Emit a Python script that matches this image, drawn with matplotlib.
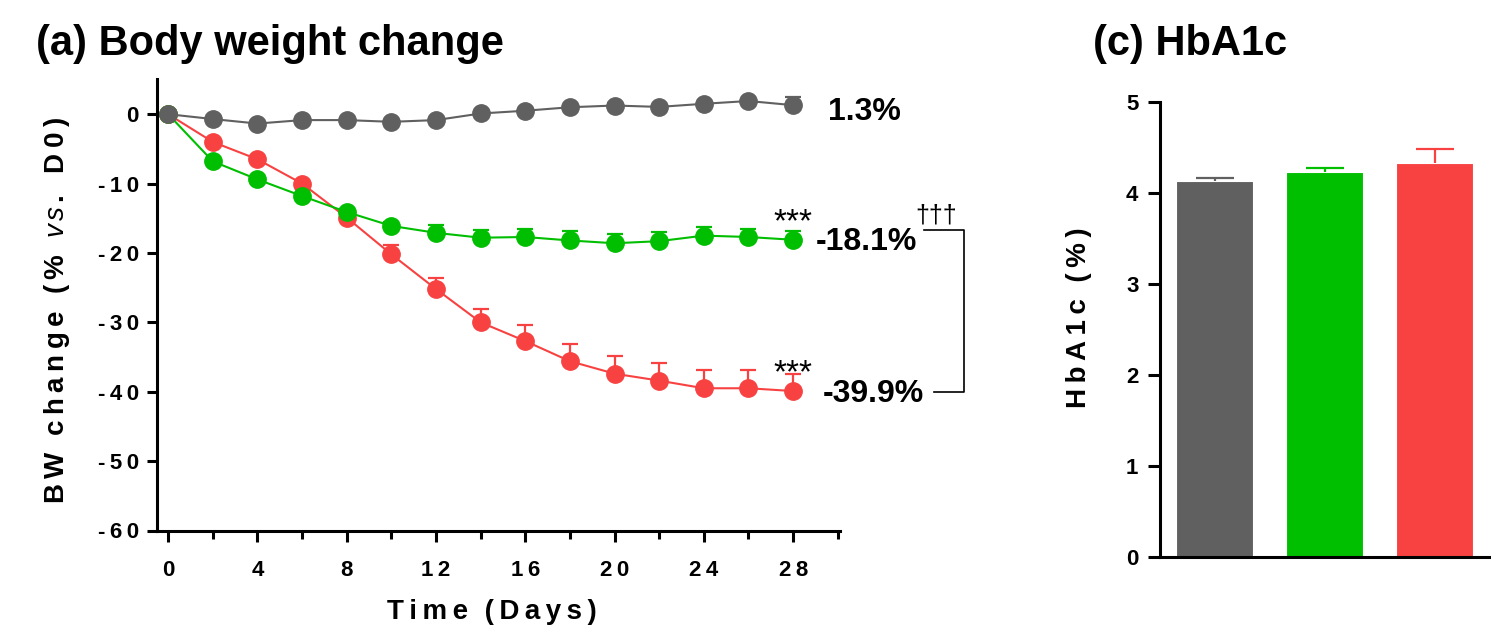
import numpy as np
import matplotlib.pyplot as plt
from matplotlib.ticker import FixedLocator

plt.rcParams['font.family'] = ['Liberation Sans', 'DejaVu Sans']
plt.rcParams['mathtext.fontset'] = 'custom'
plt.rcParams['mathtext.it'] = 'Liberation Sans:italic'
plt.rcParams['mathtext.rm'] = 'Liberation Sans:bold'

# ---- data ----
days = [0, 2, 4, 6, 8, 10, 12, 14, 16, 18, 20, 22, 24, 26, 28]
bw_ctrl = [0, -0.7, -1.35, -0.85, -0.85, -1.1, -0.85, 0.1, 0.5, 1.0, 1.25, 1.05, 1.5, 1.9, 1.3]
bw_ctrl_err = [0, 0.2, 0.2, 0.2, 0.2, 0.2, 0.3, 0.3, 0.3, 0.3, 0.3, 0.3, 0.3, 0.3, 1.2]
bw_green = [0, -6.8, -9.4, -11.8, -14.1, -16.1, -17.1, -17.8, -17.7, -18.2, -18.6, -18.3, -17.5, -17.7, -18.1]
bw_green_err = [0, 0.3, 0.3, 0.4, 0.5, 0.6, 1.2, 1.1, 1.2, 1.4, 1.4, 1.3, 1.2, 1.1, 1.2]
bw_red = [0, -4.0, -6.5, -10.0, -14.9, -20.2, -25.2, -30.0, -32.7, -35.6, -37.4, -38.4, -39.5, -39.5, -39.9]
bw_red_err = [0, 0.3, 0.4, 0.5, 0.6, 1.3, 1.6, 1.9, 2.3, 2.5, 2.5, 2.5, 2.6, 2.6, 2.4]
end_labels = ['1.3%', '-18.1%', '-39.9%']

hba1c = [4.13, 4.23, 4.33]
hba1c_err = [0.04, 0.04, 0.15]

colors = ['#606060', '#00BE00', '#F84242']

THIN = '\u2009'


# spaced-out text like the GraphPad export
def spaced(s, sep=THIN):
    return sep.join(s)


fig = plt.figure(figsize=(14.91, 6.31), dpi=100)

# ---------- (a) body weight ----------
ax = fig.add_axes([157/1491, 1 - 530.5/631, 683/1491, 451/631])
series = [(bw_red, bw_red_err, colors[2]),
          (bw_green, bw_green_err, colors[1]),
          (bw_ctrl, bw_ctrl_err, colors[0])]
for vals, err, c in series:
    ax.errorbar(days, vals, yerr=[np.zeros(len(err)), err], fmt='o-', color=c,
                ms=12.5, lw=1.5, elinewidth=1.6, capsize=6, capthick=1.6)

ax.set_xlim(-0.5, 30.1)
ax.set_ylim(-60, 5)
ax.xaxis.set_major_locator(FixedLocator(range(0, 29, 4)))
ax.xaxis.set_minor_locator(FixedLocator(range(2, 31, 4)))
ax.yaxis.set_major_locator(FixedLocator(range(-60, 1, 10)))
ax.set_xticklabels([spaced(str(d)) for d in range(0, 29, 4)],
                   fontsize=16, fontweight='bold')
ax.set_yticklabels([spaced(str(v)) for v in range(-60, 1, 10)],
                   fontsize=16, fontweight='bold')
for s in ['top', 'right']:
    ax.spines[s].set_visible(False)
for s in ['left', 'bottom']:
    ax.spines[s].set_linewidth(2.2)
ax.tick_params(axis='y', width=2.2, length=7, pad=6)
ax.tick_params(axis='x', which='major', width=2.2, length=8, pad=13)
ax.tick_params(axis='x', which='minor', width=2.2, length=5.5)

ax.set_ylabel(spaced('BW') + THIN * 3 + spaced('change') + THIN * 3 + spaced('(%')
              + THIN * 3 + r'$\mathit{v\,s\,.}$' + THIN * 3 + spaced('D0)'),
              fontsize=20, fontweight='bold')
ax.yaxis.set_label_coords(-0.124, 0.487)
ax.set_xlabel(spaced('Time') + THIN * 3 + spaced('(Days)'), fontsize=20,
              fontweight='bold')
ax.xaxis.set_label_coords(0.49, -0.152)

# end-point labels
ax.text(29.56, -0.87, end_labels[0], fontsize=23, fontweight='bold', va='baseline')
ax.text(29.03, -19.6, end_labels[1], fontsize=23, fontweight='bold', va='baseline')
ax.text(29.34, -41.5, end_labels[2], fontsize=23, fontweight='bold', va='baseline')
ax.text(28, -16.9, '***', fontsize=24, ha='center', va='baseline')
ax.text(28, -38.6, '***', fontsize=24, ha='center', va='baseline')
ax.text(34.4, -15.6, '\u2020\u2020\u2020', fontsize=18, ha='center', va='baseline')
ax.plot([33.87, 35.67, 35.67, 34.32], [-16.7, -16.7, -40.1, -40.1],
        color='black', lw=1.2, clip_on=False)

fig.text(36/1491, 1 - 55/631, '(a) Body weight change', fontsize=30,
         fontweight='bold', va='baseline')

# ---------- (c) HbA1c ----------
bx = fig.add_axes([1160/1491, 1 - 557/631, 331/1491, 455/631])
xpos = np.arange(len(hba1c))
tops = np.array(hba1c) + np.array(hba1c_err)
bx.bar(xpos, hba1c, width=0.7, color=colors, edgecolor='white', linewidth=0.8)
# upward-only error bars
bx.vlines(xpos, hba1c, tops, colors=colors, lw=1.6)
bx.hlines(tops, xpos - 0.17, xpos + 0.17, colors=colors, lw=1.6)
bx.set_xlim(-0.5, 2.51)
bx.set_ylim(0, 5)
bx.set_xticks([])
bx.yaxis.set_major_locator(FixedLocator(range(0, 6)))
bx.set_yticklabels([str(v) for v in range(0, 6)], fontsize=16, fontweight='bold')
for s in ['top', 'right']:
    bx.spines[s].set_visible(False)
for s in ['left', 'bottom']:
    bx.spines[s].set_linewidth(2.2)
bx.tick_params(axis='y', width=2.2, length=8.5, pad=7)
bx.set_ylabel(spaced('HbA1c') + THIN * 3 + spaced('(%)'), fontsize=20,
              fontweight='bold')
bx.yaxis.set_label_coords(-0.205, 0.525)

fig.text(1093/1491, 1 - 55/631, '(c) HbA1c', fontsize=30, fontweight='bold',
         va='baseline')

fig.savefig('out.png', dpi=100)
